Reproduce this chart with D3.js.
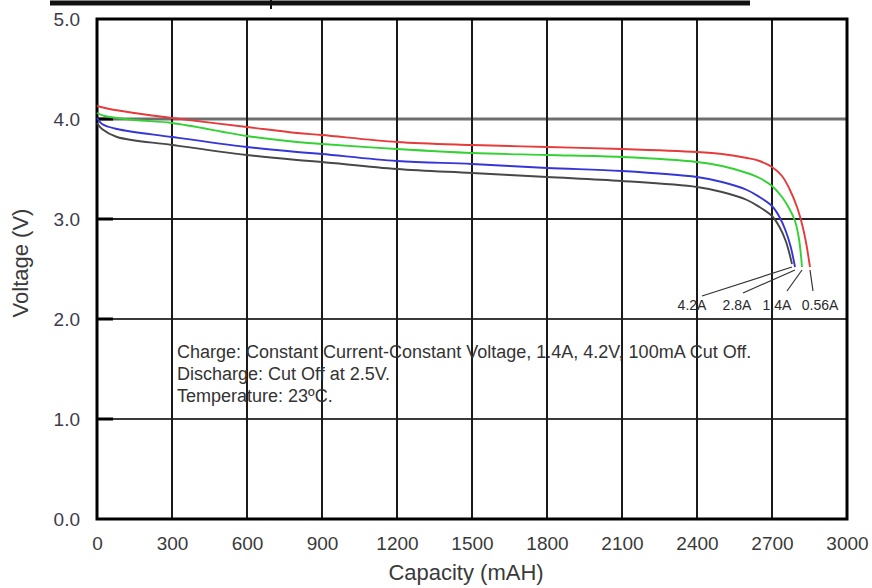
<!DOCTYPE html>
<html>
<head>
<meta charset="utf-8">
<script src="https://cdn.jsdelivr.net/npm/d3@7"></script>
<style>
  html, body { margin: 0; padding: 0; background: #fff; }
  svg { display: block; font-family: "Liberation Sans", Arial, sans-serif; }
</style>
</head>
<body>
<svg id="chart" width="872" height="588"></svg>
<script>
// ---- data ----
const xTicks = [0, 300, 600, 900, 1200, 1500, 1800, 2100, 2400, 2700, 3000];
const yTicks = [0, 1, 2, 3, 4, 5];
const seriesNames = ["0.56A", "1.4A", "2.8A", "4.2A"];
const seriesColors = ["#e53b3b", "#33d133", "#3636d6", "#474747"];

const cap056 = [0, 50, 150, 300, 600, 800, 900, 1200, 1500, 1800, 2100, 2400, 2500, 2600, 2650, 2700, 2740, 2770, 2800, 2820, 2835, 2852];
const volt056 = [4.13, 4.10, 4.06, 4.01, 3.92, 3.86, 3.84, 3.77, 3.74, 3.72, 3.70, 3.67, 3.65, 3.61, 3.58, 3.52, 3.43, 3.30, 3.12, 2.95, 2.78, 2.52];

const cap14 = [0, 30, 150, 300, 600, 800, 900, 1200, 1500, 1800, 2100, 2400, 2500, 2600, 2650, 2700, 2740, 2770, 2792, 2808, 2820];
const volt14 = [4.06, 4.03, 3.99, 3.96, 3.83, 3.77, 3.75, 3.70, 3.66, 3.64, 3.62, 3.57, 3.53, 3.46, 3.41, 3.33, 3.22, 3.10, 2.98, 2.80, 2.52];

const cap28 = [0, 20, 80, 300, 600, 800, 900, 1200, 1500, 1800, 2100, 2400, 2500, 2600, 2650, 2700, 2730, 2755, 2775, 2792];
const volt28 = [4.01, 3.95, 3.90, 3.82, 3.72, 3.67, 3.65, 3.58, 3.55, 3.51, 3.48, 3.42, 3.37, 3.29, 3.22, 3.13, 3.02, 2.88, 2.72, 2.52];

const cap42 = [0, 20, 80, 300, 600, 800, 900, 1200, 1500, 1800, 2100, 2400, 2500, 2600, 2650, 2700, 2730, 2755, 2780];
const volt42 = [3.96, 3.90, 3.82, 3.74, 3.64, 3.59, 3.57, 3.50, 3.46, 3.42, 3.38, 3.32, 3.27, 3.19, 3.12, 3.03, 2.92, 2.78, 2.55];

// annotation labels (order left to right) and their anchor points
const labelNames = ["4.2A", "2.8A", "1.4A", "0.56A"];
const labelCap = [2380, 2560, 2720, 2892];
const labelVolt = [2.09, 2.09, 2.09, 2.09];
const leaderCap = [2420, 2584, 2760, 2864];
const leaderVolt = [2.23, 2.26, 2.28, 2.28];

const noteLines = [
  "Charge: Constant Current-Constant Voltage, 1.4A, 4.2V, 100mA Cut Off.",
  "Discharge: Cut Off at 2.5V.",
  "Temperature: 23ºC."
];
const noteCap = 320;
const noteVolt = [1.61, 1.39, 1.17];

// ---- build ----
const series = [
  { name: seriesNames[0], color: seriesColors[0], pts: cap056.map((c, i) => [c, volt056[i]]) },
  { name: seriesNames[1], color: seriesColors[1], pts: cap14.map((c, i) => [c, volt14[i]]) },
  { name: seriesNames[2], color: seriesColors[2], pts: cap28.map((c, i) => [c, volt28[i]]) },
  { name: seriesNames[3], color: seriesColors[3], pts: cap42.map((c, i) => [c, volt42[i]]) }
];
const labelTarget = { "4.2A": series[3], "2.8A": series[2], "1.4A": series[1], "0.56A": series[0] };

const svg = d3.select("#chart");
const x = d3.scaleLinear().domain([0, 3000]).range([97, 847]);
const y = d3.scaleLinear().domain([0, 5]).range([519, 19]);

// cropped table rule at the very top
svg.append("line").attr("x1", 50).attr("x2", 750).attr("y1", 3).attr("y2", 3)
  .attr("stroke", "#111").attr("stroke-width", 5);
svg.append("line").attr("x1", 271).attr("x2", 271).attr("y1", 0).attr("y2", 9)
  .attr("stroke", "#111").attr("stroke-width", 2);

// horizontal gridlines
svg.append("g").selectAll("line").data(yTicks.filter(d => d > 0 && d < 5)).join("line")
  .attr("x1", x(0)).attr("x2", x(3000))
  .attr("y1", d => y(d)).attr("y2", d => y(d))
  .attr("stroke", d => d === 4 ? "#6e6e6e" : (d === 3 ? "#222" : "#3a3a3a"))
  .attr("stroke-width", d => d === 4 ? 3 : 2);

// vertical gridlines
svg.append("g").selectAll("line").data(xTicks.filter(d => d > 0 && d < 3000)).join("line")
  .attr("x1", d => x(d)).attr("x2", d => x(d))
  .attr("y1", y(5)).attr("y2", y(0))
  .attr("stroke", "#1a1a1a").attr("stroke-width", 2);

// left tick marks
svg.append("g").selectAll("line").data(yTicks.filter(d => d > 0 && d < 5)).join("line")
  .attr("x1", x(0)).attr("x2", x(0) + 16)
  .attr("y1", d => y(d)).attr("y2", d => y(d))
  .attr("stroke", "#000").attr("stroke-width", 3);

// plot frame
svg.append("rect")
  .attr("x", x(0)).attr("y", y(5))
  .attr("width", x(3000) - x(0)).attr("height", y(0) - y(5))
  .attr("fill", "none").attr("stroke", "#000").attr("stroke-width", 3);

// axes (labels only)
const yAxis = d3.axisLeft(y).tickValues(yTicks).tickFormat(d3.format(".1f")).tickSize(0).tickPadding(17);
const gy = svg.append("g").attr("transform", `translate(${x(0)},0)`).call(yAxis);
gy.select(".domain").remove();
gy.selectAll("text").attr("font-size", 19).attr("fill", "#3c3c4c")
  .attr("font-family", "Liberation Sans, Arial, sans-serif");

const xAxis = d3.axisBottom(x).tickValues(xTicks).tickFormat(d3.format("d")).tickSize(0).tickPadding(18);
const gx = svg.append("g").attr("transform", `translate(0,${y(0)})`).call(xAxis);
gx.select(".domain").remove();
gx.selectAll("text").attr("font-size", 19).attr("fill", "#3a3a3a")
  .attr("font-family", "Liberation Sans, Arial, sans-serif");

// axis titles
svg.append("text").attr("x", 466).attr("y", 580).attr("text-anchor", "middle")
  .attr("font-size", 22).attr("fill", "#3a3a3a").text("Capacity (mAH)");
svg.append("text").attr("transform", "translate(28,263) rotate(-90)").attr("text-anchor", "middle")
  .attr("font-size", 22).attr("fill", "#3a3a3a").text("Voltage (V)");

// curves
const line = d3.line().x(d => x(d[0])).y(d => y(d[1])).curve(d3.curveCatmullRom.alpha(0.5));
svg.append("g").selectAll("path").data(series).join("path")
  .attr("d", d => line(d.pts))
  .attr("fill", "none").attr("stroke", d => d.color).attr("stroke-width", 1.9);

// leaders + labels
const ann = svg.append("g");
labelNames.forEach((name, i) => {
  const s = labelTarget[name];
  const end = s.pts[s.pts.length - 1];
  ann.append("line")
    .attr("x1", x(leaderCap[i])).attr("y1", y(leaderVolt[i]))
    .attr("x2", x(end[0])).attr("y2", y(end[1] - 0.03))
    .attr("stroke", "#333").attr("stroke-width", 1.2);
  ann.append("text")
    .attr("x", x(labelCap[i])).attr("y", y(labelVolt[i]))
    .attr("text-anchor", "middle").attr("font-size", 14).attr("fill", "#2a2a2a")
    .text(name);
});

// notes
svg.append("g").selectAll("text").data(noteLines).join("text")
  .attr("x", x(noteCap)).attr("y", (d, i) => y(noteVolt[i]))
  .attr("font-size", 18).attr("fill", "#333")
  .text(d => d);
</script>
</body>
</html>
